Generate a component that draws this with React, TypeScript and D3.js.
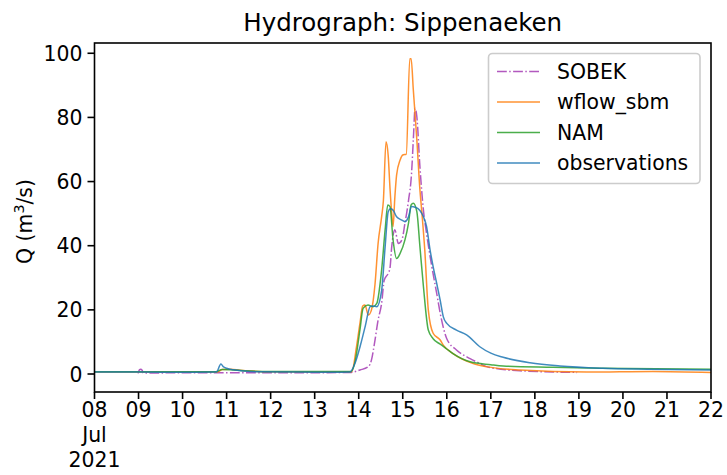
import React from "react";
import * as d3 from "d3";

// ---- data (day of July 2021, discharge m3/s) ----
const sobekT = [8.99, 9.02, 9.05, 9.08, 9.11, 10.0, 11.0, 12.0, 13.0, 13.8, 14.03, 14.22, 14.29, 14.37, 14.44, 14.52, 14.58, 14.67, 14.71, 14.75, 14.82, 14.9, 14.98, 15.05, 15.13, 15.2, 15.24, 15.28, 15.32, 15.39, 15.47, 15.54, 15.66, 15.77, 15.85, 16.0, 16.22, 16.53, 16.75, 16.9, 17.66, 18.96];
const sobekQ = [0.2, 1.3, 1.5, 1.2, 0.3, 0.4, 0.4, 0.4, 0.4, 0.5, 1.25, 2.3, 4.4, 10.6, 16.8, 22, 29.3, 31.4, 33, 39.7, 45, 40.7, 41.8, 47, 54, 62.6, 73, 82.8, 80.2, 64.6, 51, 43.9, 33.5, 25.2, 19, 11, 7.5, 4.8, 3.3, 2.3, 1.0, 0.5];

const wflowT = [8.0, 10.8, 10.9, 11.1, 11.3, 11.6, 12.0, 13.0, 13.84, 13.95, 14.03, 14.09, 14.14, 14.22, 14.29, 14.37, 14.44, 14.52, 14.56, 14.62, 14.67, 14.71, 14.75, 14.78, 14.82, 14.86, 14.94, 15.0, 15.08, 15.16, 15.19, 15.24, 15.32, 15.39, 15.43, 15.5, 15.58, 15.69, 15.85, 15.92, 16.15, 16.6, 16.9, 17.66, 19.18, 20.68, 22.0];
const wflowQ = [0.6, 0.6, 1.4, 1.5, 1.2, 0.9, 0.7, 0.6, 0.7, 8.5, 16, 21.2, 21.5, 18.4, 20, 28, 40.7, 49, 54, 72.4, 68, 58, 50, 46, 55, 62, 66.7, 68.3, 68.5, 98.3, 98.3, 88.6, 73, 57.4, 51, 38.7, 20, 12.7, 10.6, 9, 6.3, 3.3, 2.3, 1.25, 0.6, 0.8, 0.5];

const namT = [8.0, 10.75, 10.9, 11.1, 11.4, 12.0, 13.0, 13.83, 13.92, 14.03, 14.1, 14.21, 14.33, 14.41, 14.52, 14.6, 14.66, 14.71, 14.78, 14.86, 14.94, 15.05, 15.13, 15.19, 15.24, 15.32, 15.39, 15.47, 15.58, 15.69, 15.85, 16.0, 16.15, 16.53, 17.0, 17.28, 18.41, 19.48, 22.0];
const namQ = [0.7, 0.7, 1.4, 1.3, 1.0, 0.8, 0.75, 0.8, 4, 14, 20.5, 21.5, 21, 22, 32.4, 45, 52.7, 52.2, 41.8, 36, 37.6, 41.8, 47, 52.7, 53.2, 50.6, 39.7, 27.2, 13.7, 11, 9.3, 7.8, 6.3, 3.8, 2.9, 2.5, 2.1, 1.8, 1.5];

const obsT = [8.0, 9.0, 10.0, 10.77, 10.87, 10.93, 11.0, 11.15, 11.4, 11.7, 12.5, 13.0, 13.6, 13.8, 13.92, 14.03, 14.15, 14.26, 14.32, 14.41, 14.52, 14.6, 14.67, 14.72, 14.78, 14.86, 14.98, 15.05, 15.13, 15.2, 15.28, 15.39, 15.47, 15.54, 15.62, 15.69, 15.77, 15.85, 15.92, 16.0, 16.22, 16.45, 16.75, 17.0, 17.28, 17.89, 18.57, 19.55, 20.61, 22.0];
const obsQ = [0.6, 0.6, 0.55, 0.6, 3.1, 2.2, 1.8, 1.3, 0.9, 0.7, 0.6, 0.55, 0.55, 0.6, 3.5, 8.5, 15, 21, 21.2, 21, 26, 39.7, 50.6, 51.5, 51.1, 49, 48, 47.5, 49, 52.2, 52, 51, 49, 46, 38.7, 33.5, 28.3, 23, 17.9, 15.8, 13.7, 12.2, 8.5, 6.5, 5.2, 3.5, 2.5, 1.8, 1.5, 1.25];

const seriesNames = ["SOBEK", "wflow_sbm", "NAM", "observations"];
const yTicks = [0, 20, 40, 60, 80, 100];
const xTickDays = [8, 9, 10, 11, 12, 13, 14, 15, 16, 17, 18, 19, 20, 21, 22];
const titleText = "Hydrograph: Sippenaeken";

const toDate = (d: number) => new Date(Date.UTC(2021, 6, 1) + (d - 1) * 864e5);

const L = 94.5, R = 711, T = 43, B = 392;
const FONT = "DejaVu Sans, sans-serif";

export default function App() {
  const x = d3.scaleUtc().domain([toDate(8), toDate(22)]).range([L, R]);
  const y = d3.scaleLinear().domain([-5.61, 103.2]).range([B, T]);

  const mk = (ts: number[], qs: number[]) => ts.map((t, i) => [toDate(t), qs[i]] as [Date, number]);
  const line = d3.line<[Date, number]>().x((d) => x(d[0])).y((d) => y(d[1])).curve(d3.curveMonotoneX);

  const series = [
    { name: seriesNames[0], data: mk(sobekT, sobekQ), color: "#a43cb4", dash: "9.8,2.4,1.5,2.4" },
    { name: seriesNames[1], data: mk(wflowT, wflowQ), color: "#ff7f0e", dash: "" },
    { name: seriesNames[2], data: mk(namT, namQ), color: "#2ca02c", dash: "" },
    { name: seriesNames[3], data: mk(obsT, obsQ), color: "#1f77b4", dash: "" },
  ];

  const legendRows = [71.5, 102, 132.5, 163];

  return (
    <svg width={727} height={475} style={{ position: "absolute", left: 0, top: 0, background: "white" }} fontFamily={FONT}>
      <defs>
        <clipPath id="plot">
          <rect x={L} y={T} width={R - L} height={B - T} />
        </clipPath>
      </defs>
      <text x={(L + R) / 2} y={31} textAnchor="middle" fontSize={24.5} fill="#000">{titleText}</text>

      <g clipPath="url(#plot)">
        {series.map((s) => (
          <path key={s.name} d={line(s.data) || ""} fill="none" stroke={s.color} strokeOpacity={0.85}
            strokeWidth={1.5} strokeDasharray={s.dash || undefined} strokeLinejoin="round" />
        ))}
      </g>

      {/* y axis ticks */}
      {yTicks.map((v) => (
        <g key={v}>
          <line x1={L - 7} x2={L} y1={y(v)} y2={y(v)} stroke="#000" strokeWidth={1.6} />
          <text x={L - 12} y={y(v) + 7.6} textAnchor="end" fontSize={20.4} fill="#000">{v}</text>
        </g>
      ))}
      {/* x axis ticks */}
      {xTickDays.map((d) => {
        const px = x(toDate(d));
        return (
          <g key={d}>
            <line x1={px} x2={px} y1={B} y2={B + 7} stroke="#000" strokeWidth={1.6} />
            <text x={px} y={417} textAnchor="middle" fontSize={20.4} fill="#000">{String(d).padStart(2, "0")}</text>
            {d === 8 && (
              <>
                <text x={px} y={442} textAnchor="middle" fontSize={20.4} fill="#000">Jul</text>
                <text x={px} y={467} textAnchor="middle" fontSize={20.4} fill="#000">2021</text>
              </>
            )}
          </g>
        );
      })}

      <text transform={`translate(32,${(T + B) / 2 + 4}) rotate(-90)`} textAnchor="middle" fontSize={20.4} fill="#000">
        Q (m<tspan fontSize={14.3} dy={-8}>3</tspan><tspan dy={8}>/s)</tspan>
      </text>

      <rect x={L} y={T} width={R - L} height={B - T} fill="none" stroke="#000" strokeWidth={1.6} />

      {/* legend */}
      <rect x={488.5} y={53.5} width={211.5} height={130} rx={4} fill="white" fillOpacity={0.8} stroke="#cccccc" strokeWidth={1.6} />
      {series.map((s, i) => (
        <g key={s.name}>
          <line x1={497} x2={540} y1={legendRows[i]} y2={legendRows[i]} stroke={s.color} strokeOpacity={0.85}
            strokeWidth={1.5} strokeDasharray={s.dash || undefined} />
          <text x={557} y={legendRows[i] + 7.4} fontSize={20.4} fill="#000">{s.name}</text>
        </g>
      ))}
    </svg>
  );
}
